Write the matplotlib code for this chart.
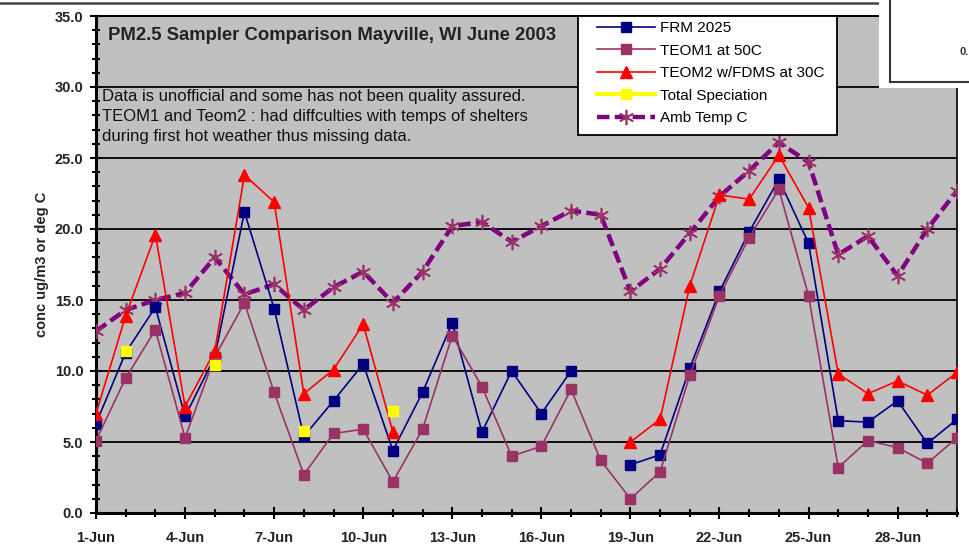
import numpy as np
import matplotlib
matplotlib.use("Agg")
import matplotlib.pyplot as plt
from matplotlib.patches import Rectangle
from matplotlib.lines import Line2D
from matplotlib.ticker import MultipleLocator, FixedLocator

plt.rcParams["font.family"] = ["Liberation Sans", "DejaVu Sans"]

nan = np.nan
days = list(range(1, 31))

frm_2025 = [6.3, 11.3, 14.5, 6.8, 11.0, 21.2, 14.4, 5.4, 7.9, 10.5,
            4.4, 8.5, 13.4, 5.7, 10.0, 7.0, 10.0, nan, 3.4, 4.1,
            10.2, 15.6, 19.8, 23.5, 19.0, 6.5, 6.4, 7.9, 4.9, 6.6]
teom1_50c = [5.1, 9.5, 12.9, 5.3, 11.0, 14.8, 8.5, 2.7, 5.6, 5.9,
             2.2, 5.9, 12.5, 8.9, 4.0, 4.7, 8.7, 3.7, 1.0, 2.9,
             9.7, 15.3, 19.4, 22.8, 15.3, 3.2, 5.1, 4.6, 3.5, 5.3]
teom2_30c = [7.0, 13.9, 19.6, 7.5, 11.4, 23.8, 21.9, 8.4, 10.1, 13.3,
             5.7, nan, nan, nan, nan, nan, nan, nan, 5.0, 6.6,
             16.0, 22.4, 22.1, 25.2, 21.5, 9.8, 8.4, 9.3, 8.3, 9.9]
total_spec = [nan, 11.4, nan, nan, 10.4, nan, nan, 5.8, nan, nan,
              7.2, nan, nan, nan, nan, nan, nan, nan, nan, nan,
              nan, nan, nan, nan, nan, nan, nan, nan, nan, nan]
amb_temp = [12.8, 14.3, 15.0, 15.5, 18.0, 15.4, 16.1, 14.3, 15.9, 17.0,
            14.8, 17.0, 20.2, 20.5, 19.1, 20.2, 21.3, 21.0, 15.6, 17.2,
            19.7, 22.3, 24.1, 26.1, 24.7, 18.2, 19.5, 16.7, 20.0, 22.7]

W, H = 970, 555
X0, X1, Y0, Y1 = 96, 957, 16, 513   # plot area in pixels
fig = plt.figure(figsize=(W / 100, H / 100), dpi=100, facecolor="white")
ax = fig.add_axes([X0 / W, 1 - Y1 / H, (X1 - X0) / W, (Y1 - Y0) / H])
ax.set_facecolor("#c0c0c0")


def axpos(px, py):
    return (px - X0) / (X1 - X0), 1 - (py - Y0) / (Y1 - Y0)


ax.plot(days, amb_temp, color="#800080", lw=3.2, ls=(0, (2.8, 1.2)),
        marker=(6, 2, 0), ms=11, mec="#993366", mew=1.2, zorder=3,
        label="Amb Temp C")
ax.plot(days, frm_2025, color="#000080", lw=1.2, marker="s", ms=7.5,
        mfc="#000080", mec="#000080", zorder=4, label="FRM 2025")
ax.plot(days, teom1_50c, color="#993366", lw=1.2, marker="s", ms=7.5,
        mfc="#993366", mec="#993366", zorder=4, label="TEOM1 at 50C")
ax.plot(days, teom2_30c, color="#ff0000", lw=1.2, marker="^", ms=8,
        mfc="#ff0000", mec="#ff0000", zorder=5, label="TEOM2 w/FDMS at 30C")
ax.plot(days, total_spec, color="#ffff00", lw=3, marker="s", ms=7.5,
        mfc="#ffff00", mec="#ffff00", zorder=6, label="Total Speciation")

ax.set_xlim(1, 30)
ax.set_ylim(0, 35)
ax.yaxis.set_major_locator(MultipleLocator(5))
ax.yaxis.set_minor_locator(MultipleLocator(1))
ax.xaxis.set_major_locator(FixedLocator(list(range(1, 31, 3))))
ax.xaxis.set_minor_locator(MultipleLocator(1))
ax.set_xticklabels([f"{d}-Jun" for d in range(1, 31, 3)])
ax.set_yticklabels([f"{v:.1f}" for v in ax.get_yticks()])
ax.grid(axis="y", which="major", color="black", lw=1.3, zorder=1)
ax.set_axisbelow(True)

ax.tick_params(which="both", direction="inout", color="black", width=1.5)
ax.tick_params(which="major", length=8, labelsize=10.5)
ax.tick_params(axis="x", which="major", pad=9)
ax.tick_params(axis="y", which="major", pad=5)
ax.tick_params(which="minor", length=6)
for lab in ax.get_xticklabels() + ax.get_yticklabels():
    lab.set_fontweight("bold")
    lab.set_color("#222222")

for side in ("left", "bottom"):
    ax.spines[side].set_linewidth(2.2)
ax.spines["right"].set_linewidth(1.2)
ax.spines["top"].set_linewidth(1.4)

ax.set_ylabel("conc ug/m3 or deg C", fontsize=10.5, fontweight="bold",
              labelpad=4, color="#222222")

ax.text(*axpos(108, 35), "PM2.5 Sampler Comparison Mayville, WI June 2003",
        transform=ax.transAxes, fontsize=13.3, fontweight="bold",
        va="center", ha="left", color="#222222")
notes = ["Data is unofficial and some has not been quality assured.",
         "TEOM1 and Teom2 : had diffculties with temps of shelters",
         "during first hot weather thus missing data."]
for i, line in enumerate(notes):
    ax.text(*axpos(102, 96 + 20 * i), line, transform=ax.transAxes,
            fontsize=12, va="center", ha="left", color="#111111")

# legend frame drawn separately so the inner padding can be set per side
lx0, ly0 = axpos(578, 135)
lx1, ly1 = axpos(837, 16)
ax.add_patch(Rectangle((lx0, ly0), lx1 - lx0, ly1 - ly0,
                       transform=ax.transAxes, facecolor="white",
                       edgecolor="black", lw=1.3, zorder=9, clip_on=False))
order = ["FRM 2025", "TEOM1 at 50C", "TEOM2 w/FDMS at 30C",
         "Total Speciation", "Amb Temp C"]
handles, labels = ax.get_legend_handles_labels()
hmap = dict(zip(labels, handles))
leg = ax.legend([hmap[k] for k in order], order, loc="upper left",
                bbox_to_anchor=axpos(594, 18), fontsize=11,
                frameon=False, handlelength=3.8, handletextpad=0.3,
                labelspacing=0.56, borderpad=0.2, borderaxespad=0,
                numpoints=1)
leg.set_zorder(10)

# thin rule along the top of the page
fig.add_artist(Line2D([0, 1], [1 - 3 / H, 1 - 3 / H], color="#444444",
                      lw=1.8, transform=fig.transFigure))

# neighbouring panel covering the upper right corner
fig.add_artist(Rectangle((879 / W, 1 - 88 / H), (W - 879) / W, 88 / H,
                         transform=fig.transFigure, facecolor="white",
                         edgecolor="none", zorder=20))
fig.add_artist(Line2D([890 / W, 890 / W], [1, 1 - 82 / H], color="#333333",
                      lw=1.5, transform=fig.transFigure, zorder=21))
fig.add_artist(Line2D([890 / W, 1], [1 - 82 / H, 1 - 82 / H],
                      color="#333333", lw=1.5, transform=fig.transFigure,
                      zorder=21))
fig.text(960 / W, 1 - 52 / H, "0.", fontsize=8, fontweight="bold",
         va="center", ha="left", color="#333333", zorder=22)

fig.savefig("out.png", dpi=100, facecolor="white")
